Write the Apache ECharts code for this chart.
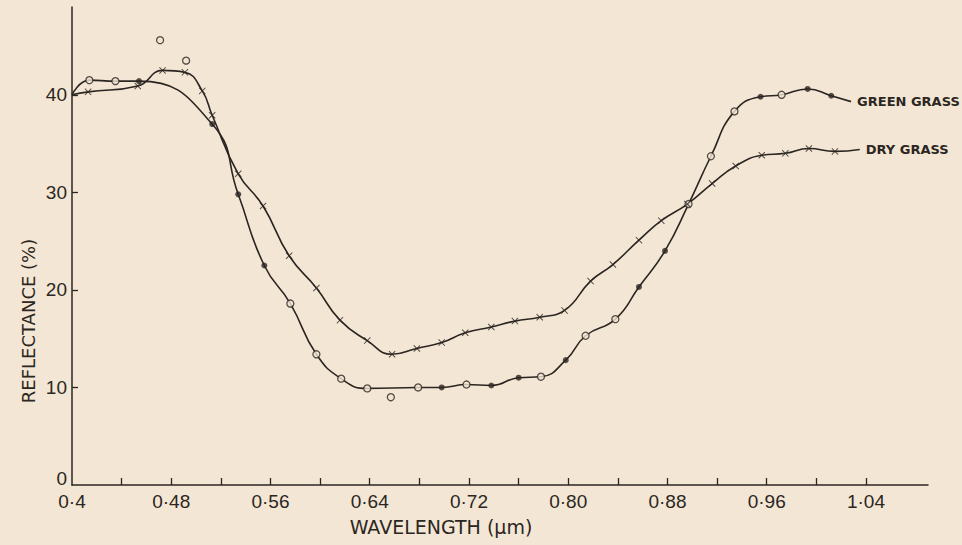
<!DOCTYPE html>
<html>
<head>
<meta charset="utf-8">
<title>Reflectance of green and dry grass</title>
<script src="https://cdn.jsdelivr.net/npm/echarts@6/dist/echarts.min.js"></script>
<style>
  html, body { margin: 0; padding: 0; background: #f4e6d4; }
  #chart { width: 962px; height: 545px; }
</style>
</head>
<body>
<div id="chart"></div>
<script>
// [wavelength (um), reflectance (%)]
const greenOpen = [
  [0.414, 41.5], [0.435, 41.4], [0.576, 18.6], [0.597, 13.4], [0.617, 10.9],
  [0.638, 9.9], [0.679, 10.0], [0.718, 10.3], [0.778, 11.1], [0.814, 15.3],
  [0.838, 17.0], [0.897, 28.8], [0.915, 33.7], [0.934, 38.3], [0.972, 40.0]
];
const greenDots = [
  [0.454, 41.4], [0.513, 37.0], [0.534, 29.8], [0.555, 22.5], [0.698, 10.0],
  [0.738, 10.2], [0.760, 11.0], [0.798, 12.8], [0.857, 20.3], [0.878, 24.0],
  [0.955, 39.8], [0.993, 40.6], [1.012, 39.9]
];
// measured points that sit off the fitted curve
const greenStray = [[0.471, 45.6], [0.492, 43.5], [0.657, 9.0]];
const greenEnds = [[0.400, 40.0], [1.028, 39.3]];

const dryCross = [
  [0.413, 40.3], [0.453, 40.9], [0.473, 42.5], [0.491, 42.3], [0.505, 40.4],
  [0.513, 37.9], [0.534, 31.9], [0.554, 28.6], [0.575, 23.5], [0.597, 20.2],
  [0.616, 16.9], [0.638, 14.8], [0.658, 13.4], [0.678, 14.0], [0.698, 14.6],
  [0.717, 15.6], [0.738, 16.2], [0.757, 16.8], [0.777, 17.2], [0.797, 17.9],
  [0.818, 20.9], [0.836, 22.6], [0.857, 25.1], [0.875, 27.1], [0.896, 28.8],
  [0.916, 30.9], [0.935, 32.7], [0.956, 33.8], [0.975, 34.0], [0.994, 34.5],
  [1.015, 34.2]
];
const dryEnds = [[0.400, 40.0], [1.035, 34.4]];

const xTickValues = [0.44, 0.48, 0.52, 0.56, 0.60, 0.64, 0.68, 0.72, 0.76, 0.80, 0.84, 0.88, 0.92, 0.96, 1.00, 1.04];
const xLabelValues = [0.40, 0.48, 0.56, 0.64, 0.72, 0.80, 0.88, 0.96, 1.04];
const xLabelTexts = ["0·4", "0·48", "0·56", "0·64", "0·72", "0·80", "0·88", "0·96", "1·04"];
const yTickValues = [10, 20, 30, 40];
const yLabelValues = [0, 10, 20, 30, 40];

const ink = "#2b2622";
const paper = "#f4e6d4";
const byX = (a, b) => a[0] - b[0];
const greenCurve = [greenEnds[0], ...greenOpen, ...greenDots, greenEnds[1]].sort(byX);
const dryCurve = [dryEnds[0], ...dryCross, dryEnds[1]].sort(byX);

const crossPath = "path://M0,1L1,0L5,4L9,0L10,1L6,5L10,9L9,10L5,6L1,10L0,9L4,5Z";

const chart = echarts.init(document.getElementById("chart"), null, { renderer: "svg" });
chart.setOption({
  backgroundColor: paper,
  animation: false,
  grid: { left: 72, right: 34, top: 7, bottom: 60 },
  xAxis: {
    type: "value",
    min: 0.4,
    max: 1.09,
    axisLine: { lineStyle: { color: ink, width: 1.5 } },
    axisTick: { inside: true, length: 7, customValues: xTickValues, lineStyle: { color: ink, width: 1.3 } },
    axisLabel: {
      customValues: xLabelValues,
      margin: 7,
      color: ink,
      fontFamily: "Liberation Sans",
      fontSize: 19,
      formatter: (v) => {
        const i = xLabelValues.findIndex((x) => Math.abs(x - v) < 1e-6);
        return i < 0 ? "" : xLabelTexts[i];
      }
    },
    splitLine: { show: false }
  },
  yAxis: {
    type: "value",
    min: 0,
    max: 49,
    axisLine: { show: true, lineStyle: { color: ink, width: 1.5 } },
    axisTick: { show: true, inside: true, length: 6, customValues: yTickValues, lineStyle: { color: ink, width: 1.3 } },
    axisLabel: {
      customValues: yLabelValues,
      margin: 5,
      color: ink,
      fontFamily: "Liberation Sans",
      fontSize: 19,
      // the zero sits just above the x axis in the original
      formatter: (v) => (v === 0 ? "{zero|0}" : String(v)),
      rich: { zero: { fontFamily: "Liberation Sans", fontSize: 19, color: ink, padding: [0, 0, 14, 0] } }
    },
    splitLine: { show: false }
  },
  graphic: [
    {
      type: "text", x: 441, y: 527,
      style: { text: "WAVELENGTH (μm)", fill: ink, font: "19px 'DejaVu Sans'", textAlign: "center", textVerticalAlign: "middle" }
    },
    {
      type: "text", x: 28, y: 321, rotation: Math.PI / 2,
      style: { text: "REFLECTANCE (%)", fill: ink, font: "18px 'DejaVu Sans'", textAlign: "center", textVerticalAlign: "middle" }
    }
  ],
  series: [
    {
      name: "GREEN GRASS",
      type: "line",
      data: greenCurve,
      smooth: 0.5,
      showSymbol: false,
      lineStyle: { color: ink, width: 1.6 },
      endLabel: { show: true, formatter: "{a}", distance: 6, color: ink, fontFamily: "DejaVu Sans", fontWeight: "bold", fontSize: 13 },
      z: 2
    },
    {
      name: "DRY GRASS",
      type: "line",
      data: dryCurve,
      smooth: 0.5,
      showSymbol: false,
      lineStyle: { color: ink, width: 1.6 },
      endLabel: { show: true, formatter: "{a}", distance: 6, color: ink, fontFamily: "DejaVu Sans", fontWeight: "bold", fontSize: 13 },
      z: 2
    },
    {
      name: "green open",
      type: "scatter",
      data: [...greenOpen, ...greenStray],
      symbol: "circle",
      symbolSize: 7,
      itemStyle: { color: paper, borderColor: ink, borderWidth: 1.3 },
      z: 3
    },
    {
      name: "green dots",
      type: "scatter",
      data: greenDots,
      symbol: "circle",
      symbolSize: 6,
      itemStyle: { color: ink },
      z: 3
    },
    {
      name: "dry crosses",
      type: "scatter",
      data: dryCross,
      symbol: crossPath,
      symbolSize: 7,
      itemStyle: { color: ink },
      z: 3
    }
  ]
});
</script>
</body>
</html>
